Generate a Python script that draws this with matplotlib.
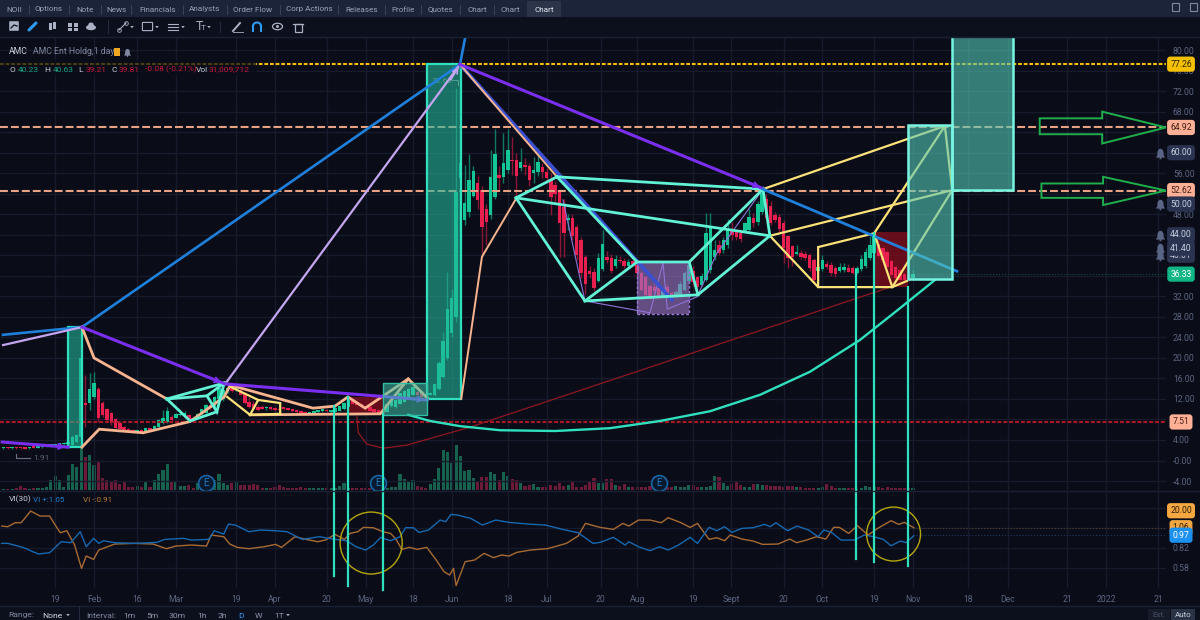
import numpy as np
import matplotlib
matplotlib.use('Agg')
import matplotlib.pyplot as plt
from matplotlib.patches import Rectangle, Ellipse, Polygon, FancyBboxPatch
from matplotlib.path import Path
from matplotlib.transforms import blended_transform_factory

plt.rcParams['font.family'] = ['Roboto', 'DejaVu Sans']

BG = '#0a0d18'
GRID = '#171c2c'
AXTXT = '#5c6580'
AQUA = '#62f2d6'
MINT = '#2fe0bf'
BLUE = '#1f80dc'
INDIGO = '#3a50d0'
VIOLET = '#7a2ff0'
LAVENDER = '#c4a5f0'
PEACH = '#f7b48f'
YELLOW = '#fde27a'

first_bar = -21

# daily candles, ten per row
opens = [2.4,2.5,2.4,2.5,2.6,2.4,2.4,2.6,2.5,2.6,
         2.8,2.9,3.0,3.1,3.2,3.3,3.0,3.6,4.5,11.3,
         11.2,12.4,13.9,11.2,10.0,9.2,8.1,7.3,6.5,6.05,
         5.95,5.65,5.9,5.75,6.2,6.2,6.6,7.4,7.55,8.5,
         8.35,8.9,8.8,8.87,8.3,8.35,9.0,9.3,10.8,10.5,
         11.9,12.0,13.6,14.2,13.7,13.8,12.9,11.5,11.1,10.4,
         10.5,10.2,10.5,10.1,10.0,10.3,10.1,9.9,9.8,9.6,
         9.3,9.2,9.2,9.5,9.7,9.7,9.5,9.5,9.7,10.0,
         10.5,11.8,11.5,11.1,10.6,10.4,10.0,9.8,9.7,9.5,
         10.6,10.4,11.1,11.5,12.3,12.8,13.4,13.4,13.0,12.8,
         12.7,14.0,16.3,19.9,24.8,28.0,55.0,46.9,48.5,51.6,
         54.0,52.7,49.0,47.9,51.4,55.6,55.3,56.6,58.6,58.6,
         57.0,57.7,57.4,56.0,56.3,57.3,56.3,54.7,53.8,52.4,
         49.5,46.9,47.2,45.6,42.9,39.6,37.0,36.7,35.0,37.3,
         39.7,39.4,38.0,39.0,38.9,37.9,38.9,38.1,36.5,35.8,
         34.0,33.8,33.6,32.0,33.8,32.6,32.3,32.3,33.2,34.9,
         37.0,35.7,34.2,35.2,37.1,39.7,42.0,41.0,42.0,45.2,
         44.5,44.4,44.8,44.9,47.2,46.5,48.5,51.0,49.7,47.9,
         47.4,46.3,43.7,41.8,40.3,40.5,40.3,40.0,39.0,37.0,
         37.3,38.3,38.1,37.5,37.0,37.1,37.6,37.5,36.6,37.3,
         37.9,39.4,40.4,42.3,41.4,40.7,38.8,37.8,37.2,36.4,
         35.9,35.6]
highs = [2.6,2.6,2.6,2.7,2.7,2.5,2.6,2.7,2.8,2.9,
         3.0,3.2,3.3,3.5,3.6,3.8,4.9,5.2,20.4,16.7,
         17.0,17.3,14.4,11.6,10.3,9.4,8.3,7.5,6.7,6.3,
         6.1,6.0,6.1,6.4,6.4,6.9,8.0,9.8,10.5,8.9,
         9.3,9.4,9.6,9.0,8.6,9.3,10.1,11.0,11.2,12.6,
         15.0,14.6,15.2,15.0,14.8,14.6,13.4,12.4,11.6,10.9,
         10.9,10.6,10.7,10.5,10.3,10.5,10.3,10.1,10.0,9.8,
         9.6,9.5,9.9,9.9,10.0,10.0,9.9,10.4,10.7,11.4,
         11.9,11.9,11.6,11.2,10.7,10.5,10.1,9.9,9.8,11.3,
         11.9,11.9,13.2,13.8,14.2,14.6,13.6,13.6,13.2,13.3,
         15.2,19.4,25.0,36.8,33.5,72.6,72.0,57.6,59.7,57.5,
         55.5,53.5,50.0,60.6,64.6,57.4,63.8,64.7,63.0,60.0,
         61.0,59.0,58.0,59.2,61.0,58.0,57.0,56.0,54.5,53.0,
         51.0,48.0,48.0,46.0,43.5,40.0,38.0,37.5,40.5,45.0,
         40.8,40.2,40.0,39.8,39.5,39.3,39.6,38.8,37.0,36.0,
         34.5,34.6,34.0,33.8,34.5,33.0,33.2,35.0,37.0,39.0,
         38.0,36.0,36.5,48.2,48.3,43.0,43.0,43.5,47.0,46.5,
         45.0,45.0,46.5,49.0,48.2,50.5,53.0,52.0,50.5,48.5,
         48.0,46.8,44.0,42.0,42.0,41.0,40.8,40.5,39.5,38.5,
         40.0,38.9,38.6,38.0,38.5,38.5,38.4,38.0,38.0,40.0,
         41.5,43.8,44.2,43.0,42.0,41.2,39.2,38.2,37.6,36.8,
         36.4,37.2]
lows = [2.3,2.3,2.3,2.3,2.3,2.2,2.3,2.4,2.4,2.5,
        2.6,2.7,2.8,2.9,3.0,3.1,2.9,3.5,4.3,6.5,
        9.8,11.9,7.6,8.5,7.6,7.0,6.1,5.9,5.7,5.6,
        5.5,5.5,5.5,5.6,5.9,6.1,6.5,7.2,7.4,7.7,
        8.2,8.6,8.6,7.7,7.9,8.2,8.9,9.2,9.9,10.3,
        11.8,11.6,13.1,13.4,13.5,12.7,11.0,10.3,9.9,9.7,
        10.0,9.9,9.8,9.7,9.6,9.8,9.8,9.5,9.3,9.1,
        9.0,9.0,9.1,9.3,9.5,9.4,9.3,9.4,9.6,9.9,
        10.4,11.0,10.7,10.3,9.9,9.6,9.4,9.2,9.1,9.4,
        10.5,10.3,11.0,11.4,12.2,12.7,12.6,12.2,12.1,12.7,
        12.5,13.8,16.0,19.5,24.0,27.0,45.0,45.9,47.5,51.4,
        49.0,39.7,42.0,47.0,51.0,52.7,54.0,56.0,55.6,51.4,
        56.5,55.6,53.5,54.0,55.5,55.0,54.0,47.8,50.0,39.7,
        39.7,45.0,43.0,39.0,35.5,32.5,35.5,33.0,34.8,37.0,
        38.5,36.5,37.5,38.5,37.5,37.5,38.0,36.0,33.0,32.0,
        31.5,32.5,31.5,31.7,32.0,31.8,32.0,32.0,33.0,34.5,
        34.0,33.5,34.0,35.0,36.5,39.0,40.0,40.5,41.5,43.0,
        43.0,42.5,44.5,44.5,45.5,46.0,48.0,47.0,46.0,46.5,
        44.5,38.5,37.5,38.0,40.0,39.2,39.0,37.0,34.8,36.5,
        37.0,37.4,36.0,35.8,36.7,36.8,36.7,36.3,36.4,37.0,
        37.6,39.0,40.0,39.5,38.8,37.5,35.9,35.2,35.0,35.0,
        35.0,35.4]
closes = [2.5,2.4,2.5,2.4,2.4,2.3,2.5,2.5,2.7,2.8,
          2.9,3.0,3.1,3.3,3.5,3.4,4.6,5.0,19.9,10.9,
          13.9,15.1,8.3,8.9,7.9,7.3,6.3,6.1,5.8,5.75,
          5.7,5.9,5.65,6.25,6.0,6.7,7.8,8.35,9.7,7.9,
          9.05,9.15,9.3,7.9,7.95,9.05,10.0,10.8,10.2,12.3,
          14.1,13.8,14.2,13.6,14.4,12.8,11.2,10.4,10.0,9.9,
          10.1,10.4,10.0,9.9,9.8,10.1,9.9,9.7,9.5,9.2,
          9.15,9.45,9.7,9.7,9.8,9.6,9.75,10.3,10.6,11.3,
          11.8,11.1,10.8,10.4,10.0,9.7,9.45,9.3,9.2,11.1,
          11.8,11.7,13.1,13.6,14.0,14.4,12.8,12.4,12.3,13.1,
          15.0,19.0,23.3,29.6,31.6,52.4,58.0,50.1,54.7,56.4,
          50.8,45.5,46.4,55.3,59.7,55.0,57.9,60.6,58.4,55.5,
          58.2,57.3,54.7,56.7,58.2,56.3,55.0,51.4,52.0,46.2,
          44.3,47.2,43.8,40.0,36.5,34.4,36.4,33.6,39.4,42.3,
          39.0,37.0,39.3,38.8,37.9,38.6,38.3,36.5,33.2,32.3,
          32.0,33.0,32.0,33.3,32.1,32.2,32.9,34.5,36.5,38.1,
          34.8,33.8,35.9,44.3,45.3,41.0,40.4,43.0,44.9,43.9,
          43.6,43.2,46.2,47.5,46.2,50.0,52.1,47.2,46.3,46.9,
          45.1,41.4,39.4,39.7,40.7,39.6,39.4,37.5,35.2,37.8,
          39.1,37.7,36.5,36.4,37.8,37.8,36.8,36.5,37.5,39.2,
          40.7,42.0,43.8,39.8,39.1,37.8,36.2,35.5,35.2,35.2,
          35.3,36.33]
# shares traded, millions
volumes = [25,25,25,50,100,50,25,50,50,50,
           75,250,350,250,75,375,650,575,1075,825,
           875,625,700,300,250,200,250,150,200,75,
           75,100,75,200,75,250,400,500,650,225,
           200,100,100,125,50,175,150,225,100,250,
           400,175,125,175,225,125,125,125,150,125,
           50,50,50,75,125,75,50,50,50,75,
           50,50,50,50,50,50,50,50,100,175,
           50,50,50,50,50,50,50,50,50,50,
           75,75,400,275,200,250,100,75,50,150,
           275,550,1000,950,675,1125,850,475,500,300,
           200,325,325,450,400,250,450,350,275,250,
           175,100,125,150,75,75,75,125,100,175,
           100,125,225,75,75,125,200,300,175,175,
           275,275,125,100,150,75,75,75,75,75,
           100,125,150,100,75,75,100,75,75,125,
           125,75,75,75,100,350,325,175,100,150,
           200,125,75,75,150,150,125,125,100,100,
           100,75,100,100,75,75,50,50,50,50,
           75,150,100,50,50,50,50,50,25,50,
           100,75,75,75,50,75,50,50,50,50,
           50,50]

# vortex indicator, sampled along the bars
vi_plus_bars = [-21.4,-20,-16.5,-12.9,-10.3,-7.6,-5.4,-3.2,-1.8,-0.1,1.1,2.2,4.8,9.3,14.6,16.4,20.8,22.6,26.6,27.9,
                30.1,31.2,32.8,35.9,38.6,42.1,44.8,48.3,52.3,55.9,58.6,60.8,63,64.8,66.5,68.8,71,72.3,74.1,75.4,
                77.6,80.3,81.6,82.8,84.3,87.4,90.1,93.2,96.3,100.7,104.7,108.7,112.3,115.8,117.4,120.5,123.2,124.1,126.3,129,
                131.2,133.2,135.6,138.3,140,142.7,144.5,146.3,148,150.3,152.9,155.6,156.9,158.2,160.9,163.1,165.8,168,169.3,171.1,
                173.3,176.4,178.7,180.9,183.1,184.9,187.1,188.4,190.2]
vi_plus = [.872,.872,.824,.744,.76,.892,.88,1.012,.832,.932,.872,.904,.88,.872,.884,.92,.932,.912,.92,1.024,
           .984,1.104,1.092,1.012,1.032,1.024,1.012,.92,.952,.92,.904,.832,.792,.852,.944,.904,.952,1.06,1.06,1.004,
           1.032,1.152,1.132,1.22,1.212,1.172,1.092,1.152,1.124,1.104,1.092,1.04,1.0,.872,.884,.944,.852,.892,.832,.784,
           .832,.792,.852,.944,.872,1.064,1.024,1.072,1.004,1.052,1.06,1.1,1.072,1.12,1.024,1.08,1.032,.952,1.032,1.004,
           .912,.912,.972,.952,.92,.844,.9,.88,.964]
vi_minus_bars = [-21.4,-20,-18.3,-16.9,-14.7,-12.5,-10.3,-8.5,-7.8,-6.3,-4.5,-2.9,-1.8,-0.1,1.1,4.8,9.3,13.7,16.8,19,
                 22.6,26.1,27.2,30.1,31.5,33.2,35.9,39.5,42.1,43.5,46.6,49.2,51.9,53.7,55.9,58.1,59.4,61.2,62.5,64.8,
                 67,68.8,70.1,71.4,73.2,75,77.2,79.4,81.2,82.5,83.4,84,86.1,88.3,90.5,92.7,94.5,96.3,98.1,101.2,
                 105.2,109.6,112.3,114,117.4,120.5,122.7,124.1,126.3,129,131.6,133.2,136,138.3,140,141.4,142.7,144.5,146.3,147.6,
                 150.3,152.9,155.1,158.7,161.4,163,165.3,167.6,169.8,171.6,172.9,175.1,177.1,179.6,181.8,184.9,186.7,188,190.2]
vi_minus = [1.08,1.072,1.12,1.12,1.26,1.2,1.2,1.052,1.0,1.024,.852,.572,.72,.68,.792,.864,.872,.864,.808,.84,
            .852,.84,.972,.952,.864,.824,.808,.832,.86,.824,.952,.92,.892,.912,.98,.92,.992,1.012,1.064,1.06,
            1.012,.992,.92,.8,.824,.8,.824,.672,.532,.492,.572,.364,.652,.672,.752,.7,.732,.72,.764,.792,
            .808,.872,.96,1.112,1.064,1.04,1.112,1.08,1.152,1.152,1.12,1.18,1.124,1.064,1.112,1.012,.92,.94,.904,.972,
            .924,.9,.86,.864,.924,.88,.912,.952,.924,1.064,1.064,.992,1.084,.972,1.052,1.144,1.1,1.124,1.06]

date_ticks = [-9,0,10,19,33,42,54,63,74,83,96,105,117.6,126,139,147.8,160,169,181,190,202.8,212,225.8,234.8,246.9]
date_labels = ['19','Feb','16','Mar','19','Apr','20','May','18','Jun','18','Jul','20','Aug','19','Sept','20','Oct','19','Nov','18','Dec','21','2022','21']

price_ticks = list(range(-4, 84, 4))
price_hidden = [8, 36, 40, 44, 52, 60, 64]

# horizontal levels
level_top = 77.26
level_mid = 64.92
level_low = 52.62
level_floor = 7.51
last_close = 36.33

# price drawings, (bars, prices)
blue_bars = [-21.1, -2.8, 84.9, 86.1]
blue_prices = [24.5, 26.0, 77.2, 82.4]
blue2_bars = [155.2, 200.2]
blue2_prices = [52.9, 36.9]
lav_bars = [-21.1, -2.8]
lav_prices = [22.5, 26.0]
lav2_bars = [30.4, 84.9]
lav2_prices = [14.9, 77.2]
vio_segments = [([-21.3, -6.0], [3.6, 2.6]), ([-2.8, 30.2], [26.0, 15.0]),
                ([30.9, 77.3], [14.9, 11.8]), ([84.9, 155.2], [77.2, 53.0])]
peach_left = [([-2.8, 0, 16.9], [26.0, 20.0, 12.0]),
              ([-2.8, 1.2, 11.4, 22.3, 30.2, 31.6], [2.6, 6.1, 5.4, 7.6, 12.4, 14.7]),
              ([31.6, 50.8, 55.9, 58.9, 62.9, 72.9, 77.3], [14.7, 10.2, 10.6, 12.4, 10.2, 15.9, 12.2]),
              ([36.2, 66.4, 72.9], [8.9, 9.1, 15.9])]
peach_right = [([84.9, 107.4], [77.2, 55.3]),
               ([97.9, 90.0, 85.2], [51.0, 39.7, 12.0])]
aqua_left = [([16.9, 30.2], [12.0, 15.1]), ([16.9, 26.2, 30.2], [12.0, 12.6, 15.1]),
             ([26.2, 28.5, 30.2], [12.6, 9.5, 15.1]), ([16.9, 22.3, 28.5], [12.0, 7.7, 9.5])]
aqua_right = [([107.4, 97.9, 113.9, 126.0, 107.4], [55.3, 51.2, 31.1, 38.7, 55.3]),
              ([113.9, 140.1, 138.1, 126.0], [31.1, 32.3, 38.7, 38.7]),
              ([138.1, 155.2, 156.8, 140.1], [38.7, 52.9, 43.8, 32.3]),
              ([107.4, 155.2], [55.3, 52.9]), ([97.9, 156.8], [51.2, 43.8])]
yellow_left = [([30.9, 36.2, 38.1, 43.2, 43.2, 36.2], [12.4, 8.9, 11.8, 11.2, 9.1, 8.9]),
               ([31.8, 38.1], [14.3, 11.8])]
yellow_right = [([156.8, 168.0, 168.0, 181.0, 197.4, 199.1], [43.8, 33.8, 41.6, 44.3, 65.2, 52.7]),
                ([168.0, 185.2, 199.1], [33.8, 33.8, 52.7]),
                ([155.2, 197.4], [52.9, 65.2]), ([156.8, 199.1], [43.8, 52.7]),
                ([181.0, 185.2, 188.6], [44.3, 33.8, 35.0])]
indigo_bars = [84.9, 134.1]
indigo_prices = [77.2, 31.3]
zig_bars = [108.8, 113.9, 129, 132, 133, 139.9, 144.5, 154.5]
zig_prices = [50.8, 31.1, 28.8, 38.5, 29.5, 31.9, 40.4, 52.1]
arc_bars = [72.9, 78, 84.9, 94.2, 107, 119.7, 131.3, 142.9, 154.5, 166.1, 177.7, 187, 195.1]
arc_prices = [8.9, 7.7, 6.7, 5.9, 5.75, 6.3, 7.7, 9.6, 12.8, 17.3, 23.5, 29.7, 35.2]
red_bars = [61, 61.3, 63.3, 67.1, 72.6, 87.2, 184.7]
red_prices = [8.5, 5.4, 3.2, 2.4, 3.0, 6.5, 33.8]

# boxes: bar from, bar to, price from, price to
tall_boxes = [(-6.0, -2.8, 2.6, 26.0), (77.3, 85.2, 12.0, 77.2)]
flat_box = (67.1, 77.3, 8.9, 15.1)
pale_boxes = [(188.9, 199.1, 35.4, 65.4), (199.1, 213.2, 52.7, 90.0)]
red_boxes = [(58.9, 67.1, 9.1, 12.4), (181.2, 188.9, 33.8, 44.5)]
purple_box = (126.0, 138.1, 28.6, 38.7)

stem_bars = [55.7, 58.9, 67.1, 176.8, 181.0, 188.9]
stem_tops = [10.6, 12.4, 9.1, 37.1, 44.3, 33.8]
stem_ends = [-22.5, -24.5, -25.2, -19.2, -19.8, -20.6]

earnings_bars = [26, 65.9, 131]
alert_prices = [60.0, 50.0, 44.0, 41.4, 40.01]

fig = plt.figure(figsize=(12, 6.2), dpi=100, facecolor=BG)

xmin, xmax = -21.81, 248.7
vol_ax = fig.add_axes([0, 130/620, 1166/1200, 452/620], facecolor=BG)
ax = fig.add_axes([0, 130/620, 1166/1200, 452/620], facecolor='none', zorder=3)
low = fig.add_axes([0, 32/620, 1166/1200, 96/620], facecolor=BG, zorder=2)

bars = np.arange(first_bar, first_bar + len(closes))
o, h, l, c = map(np.array, (opens, highs, lows, closes))
up = c >= o

# volume underlay
vol_ax.bar(bars, volumes, width=0.72, color=np.where(up, '#17624f', '#6b1a38'))
vol_ax.set_xlim(xmin, xmax)
vol_ax.set_ylim(0, 11300)
vol_ax.axis('off')

ax.set_xlim(xmin, xmax)
ax.set_ylim(-5.75, 82.36)
ax.set_xticks(date_ticks)
ax.set_xticklabels([])
ax.yaxis.tick_right()
ax.set_yticks(price_ticks)
ax.set_yticklabels(['' if p in price_hidden else ('-0.00' if p == 0 else f'{p:.2f}') for p in price_ticks])
ax.tick_params(length=0, labelcolor=AXTXT, labelsize=6.2, pad=5)
ax.grid(True, color=GRID, lw=1)
ax.set_axisbelow(True)
for s in ax.spines.values():
    s.set_visible(False)

# candles
ax.vlines(bars[up], l[up], h[up], color='#0f7a5f', lw=1, zorder=2)
ax.vlines(bars[~up], l[~up], h[~up], color='#8a1534', lw=1, zorder=2)
body = np.maximum(np.abs(c - o), 0.25)
ax.bar(bars, body, bottom=np.minimum(o, c), width=0.8, color=np.where(up, '#14c596', '#e81f4f'), zorder=2.2)


def add_box(box, face, alpha, edge, lw, z=3.0, ls='-'):
    x0, x1, y0, y1 = box
    ax.add_patch(Rectangle((x0, y0), x1 - x0, y1 - y0, facecolor=face, alpha=alpha, lw=0, zorder=z))
    if edge:
        ax.add_patch(Rectangle((x0, y0), x1 - x0, y1 - y0, fill=False, edgecolor=edge, lw=lw, ls=ls, zorder=z + 0.01))


for b in red_boxes:
    add_box(b, '#8a0d1e', 0.72, None, 0, z=2.1)
for b in tall_boxes:
    add_box(b, '#24b89c', 0.58, MINT, 1.6, z=3.7)
add_box(flat_box, '#3fc0a8', 0.55, '#2fbfa5', 1.0, z=4.6)
for b in pale_boxes:
    add_box(b, '#55c8b6', 0.6, '#78f5e2', 1.8, z=4.7)
add_box(purple_box, '#a078c8', 0.6, '#9c78d8', 1.0, z=3.0, ls=(0, (2, 1.5)))

# levels
ax.axhline(level_floor, color='#a81826', lw=1.5, ls=(0, (1.9, 0.9)), zorder=2.6)
ax.axhline(level_top, color='#f5bd00', lw=1.5, ls=(0, (1.8, 0.9)), zorder=2.6)
ax.axhline(level_mid, color='#e8a283', lw=1.5, ls=(0, (3.8, 1.45)), zorder=3.5)
ax.axhline(level_low, color='#e8a283', lw=1.5, ls=(0, (3.8, 1.45)), zorder=3.5)
ax.plot([bars[-1], xmax], [last_close, last_close], color='#114d40', lw=0.8, ls=':', zorder=1.5)

# drawing tools
ax.plot(red_bars, red_prices, color='#8f1722', lw=0.9, zorder=3.6)
ax.plot(zig_bars, zig_prices, color='#8f74d8', lw=0.8, zorder=3.8)
ax.plot(blue_bars, blue_prices, color=BLUE, lw=1.9, zorder=4)
ax.plot(blue2_bars, blue2_prices, color=BLUE, lw=2.0, zorder=4.55)
ax.plot(lav_bars, lav_prices, color=LAVENDER, lw=1.6, zorder=4)
ax.plot(lav2_bars, lav2_prices, color=LAVENDER, lw=1.6, zorder=4)
ax.plot(indigo_bars, indigo_prices, color=INDIGO, lw=2.6, zorder=4)
ax.plot(arc_bars, arc_prices, color=MINT, lw=1.7, zorder=4)
for xs, ys in peach_left:
    ax.plot(xs, ys, color=PEACH, lw=2.0, zorder=4.2, solid_joinstyle='miter')
for xs, ys in peach_right:
    ax.plot(xs, ys, color=PEACH, lw=1.4, zorder=4.2, solid_joinstyle='miter')
for xs, ys in aqua_left + aqua_right:
    ax.plot(xs, ys, color=AQUA, lw=2.0, zorder=4.4, solid_joinstyle='miter')
for xs, ys in yellow_left + yellow_right:
    ax.plot(xs, ys, color=YELLOW, lw=1.6, zorder=4.3, solid_joinstyle='miter')
for xs, ys in vio_segments:
    ax.plot(xs, ys, color=VIOLET, lw=2.2, zorder=4.5)
    ax.annotate('', xy=(xs[-1], ys[-1]), xytext=(xs[-1] - (xs[-1] - xs[0]) * 0.12, ys[-1] - (ys[-1] - ys[0]) * 0.12),
                arrowprops=dict(arrowstyle='->', color=VIOLET, lw=1.4, mutation_scale=9), zorder=4.5)
ax.annotate('', xy=(lav2_bars[-1], lav2_prices[-1]), xytext=(lav2_bars[-1] - 2.5, lav2_prices[-1] - 3.5),
            arrowprops=dict(arrowstyle='->', color=LAVENDER, lw=1.2, mutation_scale=9), zorder=4.6)

# vertical markers reach down into the indicator pane
for x, top, end in zip(stem_bars, stem_tops, stem_ends):
    ax.plot([x, x], [top, end], color=MINT, lw=1.6, clip_on=False, zorder=6)

# outlined target arrows
ax.add_patch(Polygon(np.column_stack(([219.4, 233.9, 233.9, 248.7, 233.9, 233.9, 219.4],
                                      [66.7, 66.7, 68.0, 64.92, 61.8, 63.6, 63.6])),
                     closed=True, fill=False, edgecolor='#1fae4c', lw=1.4, zorder=5))
ax.add_patch(Polygon(np.column_stack(([219.8, 234.1, 234.1, 248.7, 234.1, 234.1, 219.8],
                                      [54.0, 54.0, 55.3, 52.62, 49.8, 51.2, 51.2])),
                     closed=True, fill=False, edgecolor='#1fae4c', lw=1.4, zorder=5))

# earnings badges
ax.scatter(earnings_bars, [-4.4] * 3, s=130, facecolor='#0a1a2e', edgecolor='#1766a8', lw=1.2, zorder=3.2)
for x in earnings_bars:
    ax.text(x, -4.4, 'E', color='#1f78c0', fontsize=7, ha='center', va='center', zorder=3.3)

# high and low readouts
ax.text(80.7, 74.0, '72.62', color='#4f9d90', fontsize=6, ha='center', va='center', zorder=3.8)
ax.plot([83.0, 84.4, 84.4], [74.2, 74.2, 73.2], color='#4f9d90', lw=0.8, zorder=3.8)
ax.plot([-18.1, -18.1, -14.8], [1.3, 0.5, 0.5], color='#6b7286', lw=0.8, zorder=3)
ax.text(-14.2, 0.5, '1.91', color='#5f6678', fontsize=6, va='center', zorder=3)

# price tags on the scale
ytrans = blended_transform_factory(ax.transAxes, ax.transData)


def tag(axis, trans, value, text, face, fg, z=7):
    axis.text(1181 / 1166, value, text, transform=trans, fontsize=6.2, color=fg, ha='center', va='center',
              bbox=dict(boxstyle='round,pad=0.36', facecolor=face, edgecolor='none'), zorder=z, clip_on=False)


tag(ax, ytrans, level_top, '77.26', '#f5c000', '#2b2300')
tag(ax, ytrans, level_mid, '64.92', '#ffb096', '#3a1f14')
tag(ax, ytrans, level_low, '52.62', '#ffb096', '#3a1f14')
tag(ax, ytrans, level_floor, '7.51', '#ffb096', '#3a1f14')
tag(ax, ytrans, 60.0, '60.00', '#2a3350', '#c8cfe0')
tag(ax, ytrans, 50.0, '50.00', '#2a3350', '#c8cfe0')
tag(ax, ytrans, 44.0, '44.00', '#2a3350', '#c8cfe0')
tag(ax, ytrans, 40.01, '40.01', '#2a3350', '#c8cfe0', z=7)
tag(ax, ytrans, 41.4, '41.40', '#2a3350', '#c8cfe0', z=7.5)
tag(ax, ytrans, last_close, '36.33', '#10b585', '#ffffff')

# alert bells next to the scale
bell = Path([(-0.8, -0.7), (-0.55, -0.3), (-0.5, 0.4), (-0.2, 0.8), (0.2, 0.8), (0.5, 0.4), (0.55, -0.3), (0.8, -0.7),
             (0.2, -0.7), (0.1, -1.0), (-0.1, -1.0), (-0.2, -0.7), (-0.8, -0.7)], closed=True)
ax.scatter([247.3] * len(alert_prices), alert_prices, marker=bell, s=70, color='#5a6585', lw=0, zorder=5, clip_on=False)

# indicator pane
low.set_xlim(xmin, xmax)
low.set_ylim(0.336, 1.489)
low.set_xticks(date_ticks)
low.set_xticklabels(date_labels)
low.yaxis.tick_right()
low.set_yticks([0.58, 0.82, 1.06, 1.30])
low.set_yticklabels(['0.58', '0.82', '', ''])
low.tick_params(length=0, labelcolor=AXTXT, labelsize=6.2, pad=5)
low.tick_params(axis='x', pad=5)
low.grid(True, color=GRID, lw=1)
low.set_axisbelow(True)
for s in low.spines.values():
    s.set_visible(False)
low.plot(vi_minus_bars, vi_minus, color='#a86a33', lw=1.0, zorder=3)
low.plot(vi_plus_bars, vi_plus, color='#1668b0', lw=1.0, zorder=3)
low.plot([190, xmax], [1.06, 1.06], color='#4a3a2a', lw=0.8, ls=':')
low.plot([190, xmax], [0.97, 0.97], color='#1c3a5c', lw=0.8, ls=':')
low.add_patch(Ellipse((64.3, 0.876), 14.4, 0.744, fill=False, edgecolor='#b5a60c', lw=1.0, zorder=4))
low.add_patch(Ellipse((185.5, 0.984), 12.5, 0.648, fill=False, edgecolor='#b5a60c', lw=1.0, zorder=4))

lowtrans = blended_transform_factory(low.transAxes, low.transData)
tag(low, lowtrans, 1.264, '20.00', '#f5a742', '#2b1c05')
tag(low, lowtrans, 1.06, '1.06', '#f5a742', '#2b1c05')
tag(low, lowtrans, 0.97, '0.97', '#1a90f0', '#ffffff', z=7.5)

# terminal chrome, laid out in screen pixels
ui = fig.add_axes([0, 0, 1, 1], zorder=5)
ui.set_xlim(0, 1200)
ui.set_ylim(620, 0)
ui.axis('off')
ui.patch.set_alpha(0)

ui.add_patch(Rectangle((0, 0), 1200, 17, facecolor='#1c2439', lw=0))
ui.add_patch(Rectangle((0, 17), 1200, 20, facecolor='#0c101d', lw=0))
ui.plot([0, 1200], [37, 37], color='#1a2033', lw=1)
ui.add_patch(Rectangle((527, 1), 34, 16, facecolor='#2b3449', lw=0))

tabs = ['NOII', 'Options', 'Note', 'News', 'Financials', 'Analysts', 'Order Flow', 'Corp Actions', 'Releases',
        'Profile', 'Quotes', 'Chart', 'Chart', 'Chart']
tab_x = [14.5, 49, 85, 117, 158, 205, 253, 309, 362, 403, 440, 477, 510, 544]
for name, x in zip(tabs, tab_x):
    ui.text(x, 9.5, name, color='#e4e8f0' if x == 544 else '#98a1b6', fontsize=5.9, ha='center', va='center')
for x in [29, 69, 101, 131, 183, 227, 280, 338, 385, 421, 460, 494]:
    ui.plot([x, x], [5, 14], color='#3a4258', lw=0.7)

ICON = '#aab2c4'
ui.add_patch(FancyBboxPatch((10, 22), 8, 8, boxstyle='round,pad=0.8', facecolor=ICON, lw=0))
ui.plot([11, 14, 17], [28, 25, 26], color='#0c101d', lw=0.9)
ui.plot([29, 36], [30, 23], color='#2f9bf0', lw=2.2, solid_capstyle='round')
for x, y0, y1 in [(50, 23, 30), (54, 22, 29)]:
    ui.add_patch(Rectangle((x - 1.5, y0), 3, y1 - y0, facecolor=ICON, lw=0))
for x in [68, 73.5]:
    for y in [23, 27.5]:
        ui.add_patch(Rectangle((x, y), 4, 3.6, facecolor=ICON, lw=0))
ui.add_patch(Ellipse((91, 27.5), 10, 5.5, facecolor=ICON, lw=0))
ui.add_patch(Ellipse((91, 25), 5.5, 5, facecolor=ICON, lw=0))
ui.plot([108, 108], [20, 33], color='#262d42', lw=0.7)
ui.plot([119, 126], [30, 23], color=ICON, lw=0.8)
ui.scatter([119, 126], [30, 23], s=7, facecolor='#0c101d', edgecolor=ICON, lw=0.6)
ui.add_patch(FancyBboxPatch((143, 23), 9, 7, boxstyle='round,pad=0.6', fill=False, edgecolor=ICON, lw=0.8))
for y in [23.5, 26.5, 29.5]:
    ui.plot([168, 178], [y, y], color=ICON, lw=0.8)
ui.text(199, 27, 'T', color=ICON, fontsize=9, ha='center', va='center')
ui.text(203, 28, 'T', color=ICON, fontsize=6, ha='center', va='center')
for x in [132, 157, 183, 209]:
    ui.add_patch(Polygon([(x - 1.8, 26), (x + 1.8, 26), (x, 28.2)], facecolor=ICON, lw=0))
ui.plot([220, 220], [22, 32], color='#262d42', lw=0.7)
ui.plot([233, 240], [31, 23], color=ICON, lw=1.4)
ui.plot([233, 243], [31.5, 31.5], color=ICON, lw=0.6)
magnet = np.deg2rad(np.arange(0, 181, 20))
ui.plot(257 + 4 * np.cos(magnet), 26 - 3.5 * np.sin(magnet), color='#2f9bf0', lw=1.5)
ui.plot([253, 253], [26, 31], color='#2f9bf0', lw=1.5)
ui.plot([261, 261], [26, 31], color='#2f9bf0', lw=1.5)
ui.add_patch(Ellipse((277.5, 26.5), 10, 6.5, fill=False, edgecolor=ICON, lw=0.9))
ui.add_patch(Ellipse((277.5, 26.5), 3, 3, facecolor=ICON, lw=0))
ui.add_patch(Rectangle((294.5, 24), 7, 8, fill=False, edgecolor=ICON, lw=0.9))
ui.plot([293, 303], [23.5, 23.5], color=ICON, lw=0.9)
for x in [1172, 1190]:
    ui.add_patch(Rectangle((x, 3), 7, 8, fill=False, edgecolor='#7f889c', lw=0.8))

# chart legend
ui.add_patch(Rectangle((0, 60), 256, 16, facecolor=BG, alpha=0.72, lw=0))
ui.text(9, 51.5, 'AMC', color='#c8cedc', fontsize=6.2, va='center')
ui.text(33, 51.5, 'AMC Ent Holdg,1 day', color='#7f889e', fontsize=6.3, va='center')
ui.add_patch(Rectangle((113.5, 47.5), 6.5, 8, facecolor='#f0a820', lw=0))
ui.scatter([127], [51.5], marker=bell, s=40, color='#7f889e', lw=0)
GREEN_T, RED_T, PALE_T = '#14a583', '#c8193f', '#c8cedc'
legend_row = [('O', 9, PALE_T), ('40.23', 18, GREEN_T), ('H', 44, PALE_T), ('40.63', 53, GREEN_T), ('L', 78, PALE_T),
              ('39.21', 86, RED_T), ('C', 111, PALE_T), ('39.81', 119, RED_T), ('-0.08 (-0.21%)', 145, RED_T),
              ('Vol', 196, PALE_T), ('31,009,712', 209, RED_T)]
for text, x, col in legend_row:
    ui.text(x, 69.5, text, color=col, fontsize=6.0, va='center')

ui.text(9, 499.5, 'VI(30)', color='#c8cedc', fontsize=6, va='center')
ui.text(33, 499.5, 'VI +:1.05', color='#1a7fd0', fontsize=5.8, va='center')
ui.text(83, 499.5, 'VI -:0.91', color='#c07a30', fontsize=5.8, va='center')
ui.plot([0, 1200], [490.5, 490.5], color='#1a2033', lw=1)

# bottom bar
ui.plot([0, 1200], [605.5, 605.5], color='#1a2033', lw=1)
ui.add_patch(Rectangle((0, 606), 1200, 14, facecolor='#0c101d', lw=0))
ui.plot([79, 79], [606, 620], color='#262d42', lw=0.7)
bottom_row = [('Range:', 8, '#7f889e'), ('None', 42, '#d5dae6'), ('Interval:', 86, '#7f889e'), ('1m', 123, '#8d95a9'),
              ('5m', 146, '#8d95a9'), ('30m', 169, '#8d95a9'), ('1h', 197, '#8d95a9'), ('2h', 218, '#8d95a9'),
              ('D', 238, '#2f9bf0'), ('W', 255, '#8d95a9'), ('1T', 274, '#8d95a9')]
for text, x, col in bottom_row:
    ui.text(x, 615.5, text, color=col, fontsize=6.1, va='center')
for x in [68, 288]:
    ui.add_patch(Polygon([(x - 1.8, 614), (x + 1.8, 614), (x, 616.2)], facecolor='#a8b0c2', lw=0))
ui.add_patch(Rectangle((1148, 609), 22, 11, facecolor='#171c2b', lw=0))
ui.add_patch(Rectangle((1171, 609), 24, 11, facecolor='#2a3246', lw=0))
ui.text(1159, 615, 'Ext.', color='#495166', fontsize=5.8, ha='center', va='center')
ui.text(1183, 615, 'Auto', color='#c8cedc', fontsize=5.8, ha='center', va='center')

fig.savefig('out.png', dpi=100, facecolor=BG)
